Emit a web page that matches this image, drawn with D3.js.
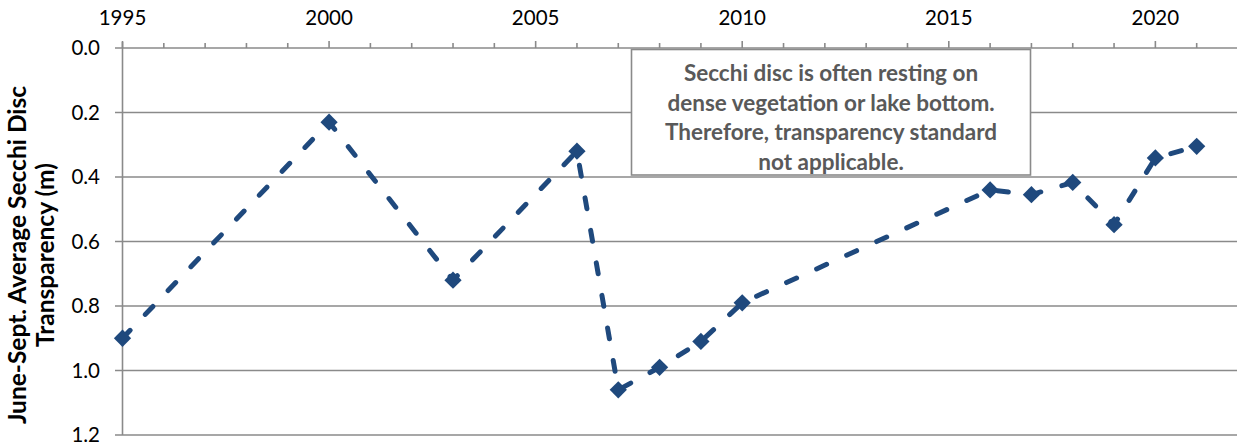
<!DOCTYPE html>
<html><head><meta charset="utf-8">
<script src="https://cdn.jsdelivr.net/npm/d3@7"></script>
<style>html,body{margin:0;padding:0;background:#fff;} svg{display:block;}</style>
</head><body>
<svg id="c" width="1237" height="446"></svg>
<script>
const years = [1995, 2000, 2003, 2006, 2007, 2008, 2009, 2010, 2016, 2017, 2018, 2019, 2020, 2021];
const secchi = [0.90, 0.23, 0.72, 0.32, 1.06, 0.99, 0.91, 0.79, 0.44, 0.455, 0.417, 0.548, 0.341, 0.305];
const xTickLabels = [1995, 2000, 2005, 2010, 2015, 2020];
const yTickValues = [0.0, 0.2, 0.4, 0.6, 0.8, 1.0, 1.2];
const yTitle = ["June-Sept. Average Secchi Disc", "Transparency (m)"];
const note = ["Secchi disc is often resting on", "dense vegetation or lake bottom.", "Therefore, transparency standard", "not applicable."];

const svg = d3.select("#c");
const font = "Lato, 'Open Sans', sans-serif";
const x = d3.scaleLinear().domain([1995, 2022]).range([122.5, 1238]);
const y = d3.scaleLinear().domain([0, 1.2]).range([48, 435]);
const gridColor = "#8a8a8a";

// horizontal gridlines + y ticks
svg.append("g").selectAll("line").data(yTickValues).join("line")
  .attr("x1", 115).attr("x2", 1237)
  .attr("y1", d => y(d)).attr("y2", d => y(d))
  .attr("stroke", gridColor).attr("stroke-width", 1.6);

// vertical axis line
svg.append("line").attr("x1", x(1995)).attr("x2", x(1995)).attr("y1", y(0) - 6).attr("y2", y(1.2))
  .attr("stroke", gridColor).attr("stroke-width", 1.6);

// y tick labels
svg.append("g").selectAll("text").data(yTickValues).join("text")
  .attr("x", 100).attr("y", d => y(d)).attr("dy", "0.36em")
  .attr("text-anchor", "end").attr("font-family", font).attr("font-size", 20.5).attr("fill", "#000")
  .text(d => d3.format(".1f")(d));

// x top ticks (minor every year, major every 5)
const allYears = d3.range(1995, 2022);
svg.append("g").selectAll("line").data(allYears).join("line")
  .attr("x1", d => x(d)).attr("x2", d => x(d))
  .attr("y1", y(0)).attr("y2", d => d % 5 === 0 ? y(0) - 7 : y(0) - 5)
  .attr("stroke", gridColor).attr("stroke-width", 1.6);

svg.append("g").selectAll("text").data(xTickLabels).join("text")
  .attr("x", d => x(d)).attr("y", 24.5)
  .attr("text-anchor", "middle").attr("font-family", font).attr("font-size", 20.5).attr("fill", "#000")
  .text(d => d);

// y axis title
const yt = svg.append("text").attr("transform", "translate(0,255) rotate(-90)")
  .attr("text-anchor", "middle").attr("font-family", font).attr("font-weight", "bold")
  .attr("font-size", 24.5).attr("fill", "#000");
yt.append("tspan").attr("x", 0).attr("y", 26).text(yTitle[0]);
yt.append("tspan").attr("x", 0).attr("y", 54).text(yTitle[1]);

// annotation box
svg.append("rect").attr("x", 631.5).attr("y", 49.5).attr("width", 399).attr("height", 125.5)
  .attr("fill", "#fff").attr("stroke", "#8a8a8a").attr("stroke-width", 1.6);
svg.append("g").selectAll("text").data(note).join("text")
  .attr("x", 831).attr("y", (d, i) => 81 + i * 29.5)
  .attr("text-anchor", "middle").attr("font-family", font).attr("font-weight", "bold")
  .attr("font-size", 22.5).attr("fill", "#595959")
  .text(d => d);

// data line
const pts = years.map((yr, i) => [yr, secchi[i]]);
const color = "#1f497d";
svg.append("path").datum(pts)
  .attr("d", d3.line().x(d => x(d[0])).y(d => y(d[1])))
  .attr("fill", "none").attr("stroke", color).attr("stroke-width", 5)
  .attr("stroke-dasharray", "11,22").attr("stroke-linecap", "round");

svg.append("g").selectAll("path").data(pts).join("path")
  .attr("transform", d => `translate(${x(d[0])},${y(d[1])})`)
  .attr("d", d3.symbol(d3.symbolDiamond2, 190)())
  .attr("fill", color);
</script>
</body></html>
